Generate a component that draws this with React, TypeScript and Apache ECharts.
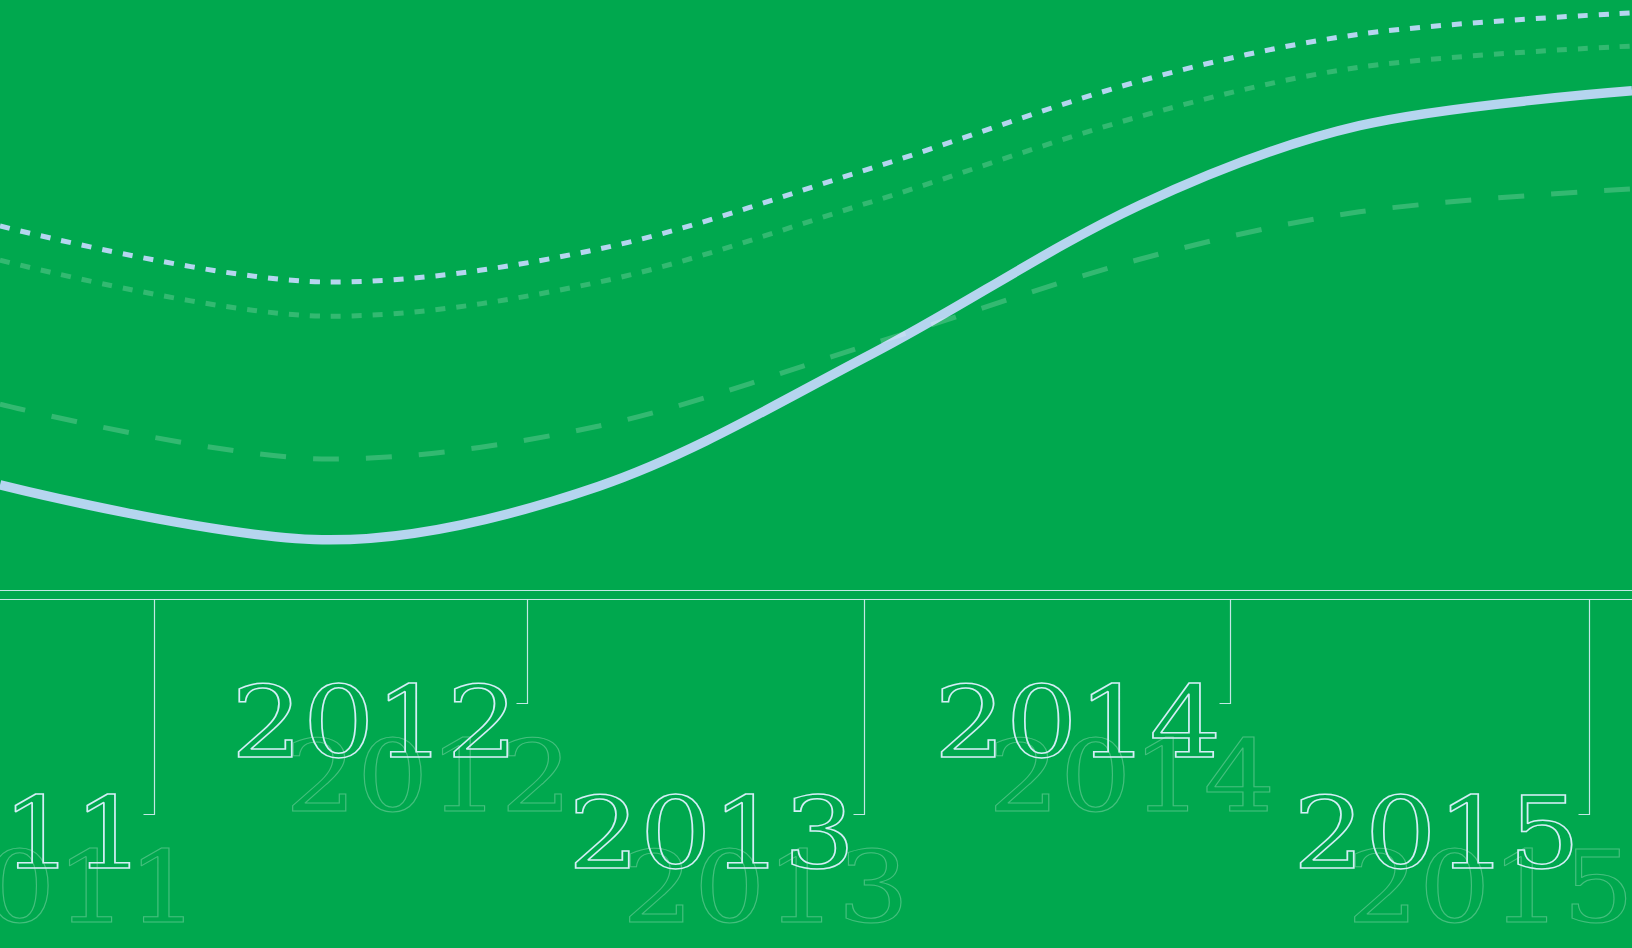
import React, { useEffect, useRef } from "react";
import * as echarts from "echarts";

// x positions in (fractional) years
const xYears = [2010.57, 2011.49, 2012.24, 2013.0, 2013.75, 2014.36, 2015.12];
// series values (index scale 0..100)
const mainLine = [17.8, 8.5, 17.6, 40.0, 65.3, 78.7, 84.6];
const dashedLine = [31.5, 22.2, 27.8, 41.7, 56.1, 64.1, 68.0];
const upperDotted = [61.7, 52.2, 57.8, 71.5, 86.3, 94.2, 97.8];
const lowerDotted = [55.9, 46.4, 52.2, 65.8, 80.3, 88.6, 92.2];

// timeline
const timelineYears = ["2011", "2012", "2013", "2014", "2015"];
const timelineX = [2011.0, 2012.04, 2012.98, 2014.0, 2015.0];
const timelineRow = [0, 1, 0, 1, 0]; // 1 = upper row, 0 = lower row

const BG = "#00a84e";
const BLUE = "#b5d5ef";
const FAINT = "rgba(255,255,255,0.2)";
const RULE = "rgba(215,238,245,0.9)";
const SMOOTH = 0.33;

export default function App() {
  const ref = useRef<HTMLDivElement>(null);

  useEffect(() => {
    if (!ref.current) return;
    const chart = echarts.init(ref.current, undefined, { renderer: "svg" });
    const pair = (arr: number[]) => xYears.map((x, i) => [x, arr[i]]);
    const W = 1632;

    const option: any = {
      animation: false,
      backgroundColor: BG,
      grid: { left: 0, right: 0, top: 0, bottom: 358 },
      xAxis: { type: "value", min: 2010.57, max: 2015.12, show: false },
      yAxis: { type: "value", min: 0, max: 100, show: false },
      graphic: [
        { type: "line", shape: { x1: 0, y1: 590.5, x2: W, y2: 590.5 }, style: { stroke: RULE, lineWidth: 1.2 } },
        { type: "line", shape: { x1: 0, y1: 599.5, x2: W, y2: 599.5 }, style: { stroke: RULE, lineWidth: 1.2 } },
      ],
      series: [
        {
          type: "custom",
          clip: false,
          silent: true,
          data: timelineX.map((x, i) => [x, timelineRow[i]]),
          renderItem: (params: any, api: any) => {
            const i = params.dataIndex;
            const p = api.coord([api.value(0), 0]);
            const x = Math.round(p[0]) + 0.5;
            const top = p[1] + 9.5;
            const hookY = Math.round(top + (api.value(1) === 1 ? 103 : 214)) + 0.5;
            const tx = x - 9;
            const ty = hookY + 19;
            const font = '100px "DejaVu Serif"';
            return {
              type: "group",
              children: [
                {
                  type: "text",
                  x: tx + 54,
                  y: ty + 54,
                  scaleX: 1.13,
                  style: { text: timelineYears[i], font, fill: "none", stroke: "rgba(255,255,255,0.27)", lineWidth: 1, align: "right", verticalAlign: "middle" },
                },
                {
                  type: "polyline",
                  shape: { points: [[x, top], [x, hookY], [x - 11, hookY]] },
                  style: { stroke: RULE, lineWidth: 1.2, fill: "none" },
                },
                {
                  type: "text",
                  x: tx,
                  y: ty,
                  scaleX: 1.13,
                  style: { text: timelineYears[i], font, fill: "none", stroke: "#d4eef6", lineWidth: 1.5, align: "right", verticalAlign: "middle" },
                },
              ],
            };
          },
        },
        {
          type: "line",
          data: pair(mainLine),
          smooth: SMOOTH,
          showSymbol: false,
          silent: true,
          lineStyle: { color: BLUE, width: 9.5 },
        },
        {
          type: "line",
          data: pair(dashedLine),
          smooth: SMOOTH,
          showSymbol: false,
          silent: true,
          lineStyle: { color: FAINT, width: 5, type: [26, 27] },
        },
        {
          type: "line",
          data: pair(lowerDotted),
          smooth: SMOOTH,
          showSymbol: false,
          silent: true,
          lineStyle: { color: FAINT, width: 5, type: [10, 11] },
        },
        {
          type: "line",
          data: pair(upperDotted),
          smooth: SMOOTH,
          showSymbol: false,
          silent: true,
          lineStyle: { color: BLUE, width: 5, type: [10, 11] },
        },
      ],
    };
    chart.setOption(option);
    return () => chart.dispose();
  }, []);

  return (
    <div
      ref={ref}
      style={{ position: "fixed", left: 0, top: 0, width: 1632, height: 948, background: BG }}
    />
  );
}
